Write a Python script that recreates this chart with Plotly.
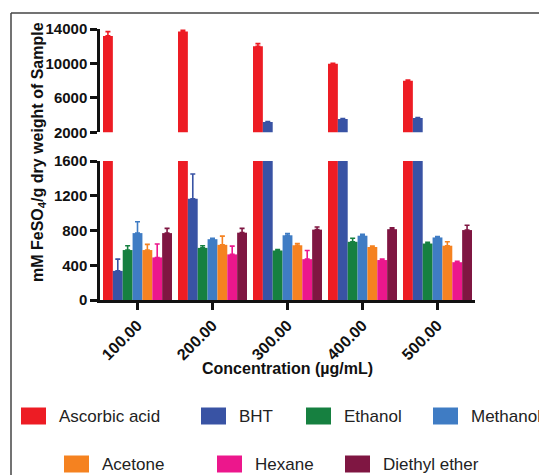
import plotly.graph_objects as go

categories = ["100.00", "200.00", "300.00", "400.00", "500.00"]
series_names = ["Ascorbic acid", "BHT", "Ethanol", "Methanol", "Acetone", "Hexane", "Diethyl ether"]
ascorbic = [13200, 13700, 12000, 9950, 8000]
ascorbic_err = [500, 150, 300, 80, 60]
bht = [335, 1165, 3200, 3550, 3650]
bht_err = [135, 285, 60, 60, 60]
ethanol = [575, 600, 570, 670, 650]
ethanol_err = [50, 25, 10, 40, 15]
methanol = [770, 700, 745, 740, 720]
methanol_err = [130, 10, 20, 15, 10]
acetone = [575, 635, 630, 610, 625]
acetone_err = [65, 100, 20, 10, 45]
hexane = [490, 525, 470, 460, 435]
hexane_err = [155, 95, 100, 10, 10]
diethyl = [770, 775, 810, 815, 805]
diethyl_err = [55, 50, 30, 15, 55]
lower_ticks = [0, 400, 800, 1200, 1600]
upper_ticks = [2000, 6000, 10000, 14000]
colors = ["#ED1C24", "#3953A4", "#168040", "#3F7CC4", "#F58220", "#EC178C", "#7F1642"]

values = [ascorbic, bht, ethanol, methanol, acetone, hexane, diethyl]
errors = [ascorbic_err, bht_err, ethanol_err, methanol_err, acetone_err, hexane_err, diethyl_err]

W, H = 539, 475
L, R, T, B = 100, 64, 29, 175
PW, PH = W - L - R, H - T - B
bottom_px = H - B


def px(x):
    return (x - L) / PW


def py(y):
    return (bottom_px - y) / PH


FONT = "Liberation Sans, Arial, sans-serif"

fig = go.Figure()
for name, vals, errs, col in zip(series_names, values, errors, colors):
    for xa, ya in (("x", "y"), ("x2", "y2")):
        fig.add_trace(go.Bar(
            x=categories, y=vals, name=name, marker_color=col,
            marker_line_width=0, xaxis=xa, yaxis=ya, showlegend=False,
            error_y=dict(type="data", array=errs, arrayminus=[0] * len(errs),
                         symmetric=False, color=col, thickness=1.6, width=2.5),
        ))

tickfont = dict(family=FONT, size=15, color="#111", weight="bold")
axis_common = dict(showline=True, linecolor="#111", linewidth=2.5, ticks="outside",
                   ticklen=7, tickwidth=2.5, tickcolor="#111", showgrid=False,
                   zeroline=False, tickfont=tickfont)

fig.update_layout(
    width=W, height=H, margin=dict(l=L, r=R, t=T, b=B),
    paper_bgcolor="white", plot_bgcolor="white",
    barmode="group", bargap=0.08, bargroupgap=0,
    xaxis=dict(type="category", range=[-0.5, 4.5], anchor="y", tickangle=-45,
               **{**axis_common, "tickfont": dict(family=FONT, size=16, color="#111", weight="bold")}),
    xaxis2=dict(type="category", range=[-0.5, 4.5], anchor="y2", matches="x",
                visible=False),
    yaxis=dict(domain=[0, py(161)], range=[0, 1600], tickvals=lower_ticks,
               ticktext=[str(v) for v in lower_ticks], anchor="x", **axis_common),
    yaxis2=dict(domain=[py(132.3), 1], range=[2000, 14000], tickvals=upper_ticks,
                ticktext=[str(v) for v in upper_ticks], anchor="x2", **axis_common),
    showlegend=False,
)

annotations = [
    dict(text="<b>mM FeSO<sub>4</sub>/g dry weight of Sample</b>", x=px(38), y=py(152),
         xref="paper", yref="paper", textangle=-90, showarrow=False,
         font=dict(family=FONT, size=16, color="#111"), xanchor="center", yanchor="middle"),
    dict(text="<b>Concentration (µg/mL)</b>", x=px(287), y=py(369), xref="paper", yref="paper",
         showarrow=False, font=dict(family=FONT, size=16, color="#111"),
         xanchor="center", yanchor="middle"),
]

# legend laid out as in the reference (two rows)
legend_pos = [(21, 416), (201, 416), (306, 416), (433, 416), (64, 464), (217, 464), (345, 464)]
shapes = []
for (lx, ly), name, col in zip(legend_pos, series_names, colors):
    shapes.append(dict(type="rect", xref="paper", yref="paper",
                       x0=px(lx), x1=px(lx + 25), y0=py(ly + 8.5), y1=py(ly - 8.5),
                       fillcolor=col, line_width=0))
    annotations.append(dict(text=name, x=px(lx + 36), y=py(ly), xref="paper", yref="paper",
                            showarrow=False, xanchor="left", yanchor="middle",
                            font=dict(family=FONT, size=17, color="#222")))

# outer frame
shapes.append(dict(type="line", xref="paper", yref="paper", x0=px(11), x1=px(545),
                   y0=py(13), y1=py(13), line=dict(color="#444", width=1.5)))
shapes.append(dict(type="line", xref="paper", yref="paper", x0=px(11), x1=px(11),
                   y0=py(13), y1=py(480), line=dict(color="#444", width=1.5)))

fig.update_layout(annotations=annotations, shapes=shapes)
fig.write_html("out.html", config={"displayModeBar": False},
               post_script="document.body.style.margin='0';")
